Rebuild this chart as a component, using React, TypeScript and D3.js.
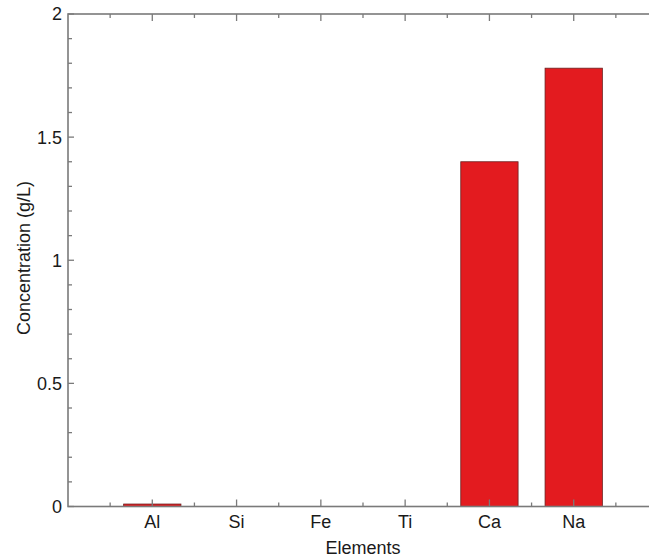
import * as d3 from "d3";
import { useRef, useEffect } from "react";

const elements = ["Al", "Si", "Fe", "Ti", "Ca", "Na"];
const concentrations = [0.01, 0, 0, 0, 1.4, 1.78];
const yMajorTicks = [0, 0.5, 1, 1.5, 2];
const yTickLabels = ["0", "0.5", "1", "1.5", "2"];

const W = 649;
const H = 558;
const left = 68;
const right = 658;
const top = 14;
const bottom = 506.5;
const axisColor = "#7a7a7a";
const font = "'Liberation Sans', Arial, sans-serif";

export default function App() {
  const ref = useRef<SVGSVGElement>(null);

  useEffect(() => {
    if (!ref.current) return;
    const svg = d3.select(ref.current);
    svg.selectAll("*").remove();

    const x = d3.scaleLinear().domain([0, elements.length + 1]).range([left, right]);
    const y = d3.scaleLinear().domain([0, 2]).range([bottom, top]);
    const barW = (x(1) - x(0)) * 0.68;

    // bars
    svg.append("g")
      .selectAll("rect")
      .data(concentrations)
      .join("rect")
      .attr("x", (_, i) => x(i + 1) - barW / 2)
      .attr("y", (d) => y(d))
      .attr("width", barW)
      .attr("height", (d) => bottom - y(d))
      .attr("fill", (d) => (d > 0 ? "#e31b1f" : "none"))
      .attr("stroke", (d) => (d > 0 ? "#6b2020" : "none"))
      .attr("stroke-width", 0.8);

    const g = svg.append("g").attr("stroke", axisColor).attr("stroke-width", 1.3);

    // frame (right side falls just outside the picture)
    g.append("rect")
      .attr("x", left)
      .attr("y", top)
      .attr("width", right - left)
      .attr("height", bottom - top)
      .attr("fill", "none")
      .attr("stroke-width", 1.6);

    // y ticks: minor every 0.1, major every 0.5
    const yMinor = d3.range(0, 21).map((v) => v / 10);
    yMinor.forEach((v) => {
      const major = Math.abs(v * 2 - Math.round(v * 2)) < 1e-6;
      const len = major ? 6 : 4;
      g.append("line").attr("x1", left).attr("x2", left + len).attr("y1", y(v)).attr("y2", y(v));
      g.append("line").attr("x1", right).attr("x2", right - len).attr("y1", y(v)).attr("y2", y(v));
    });

    // x ticks: major at categories, minor between
    d3.range(1, elements.length + 1).forEach((v) => {
      g.append("line").attr("x1", x(v)).attr("x2", x(v)).attr("y1", bottom).attr("y2", bottom - 7);
      g.append("line").attr("x1", x(v)).attr("x2", x(v)).attr("y1", top).attr("y2", top + 7);
    });
    d3.range(0.5, elements.length + 1, 1).forEach((v) => {
      g.append("line").attr("x1", x(v)).attr("x2", x(v)).attr("y1", bottom).attr("y2", bottom - 4);
      g.append("line").attr("x1", x(v)).attr("x2", x(v)).attr("y1", top).attr("y2", top + 4);
    });

    // tick labels
    svg.append("g")
      .selectAll("text")
      .data(yMajorTicks)
      .join("text")
      .attr("x", left - 6)
      .attr("y", (d) => y(d))
      .attr("dy", "0.36em")
      .attr("text-anchor", "end")
      .attr("font-family", font)
      .attr("font-size", 18)
      .attr("fill", "#1a1a1a")
      .text((_, i) => yTickLabels[i]);

    svg.append("g")
      .selectAll("text")
      .data(elements)
      .join("text")
      .attr("x", (_, i) => x(i + 1))
      .attr("y", 528)
      .attr("text-anchor", "middle")
      .attr("font-family", font)
      .attr("font-size", 18)
      .attr("fill", "#1a1a1a")
      .text((d) => d);

    svg.append("text")
      .attr("x", 363)
      .attr("y", 554)
      .attr("text-anchor", "middle")
      .attr("font-family", font)
      .attr("font-size", 18)
      .attr("fill", "#1a1a1a")
      .text("Elements");

    svg.append("text")
      .attr("transform", `translate(30, 258) rotate(-90)`)
      .attr("text-anchor", "middle")
      .attr("font-family", font)
      .attr("font-size", 18)
      .attr("fill", "#1a1a1a")
      .text("Concentration (g/L)");
  }, []);

  return (
    <>
      <style>{`body{margin:0}`}</style>
      <svg ref={ref} width={W} height={H} style={{ display: "block", background: "#fff" }} />
    </>
  );
}
